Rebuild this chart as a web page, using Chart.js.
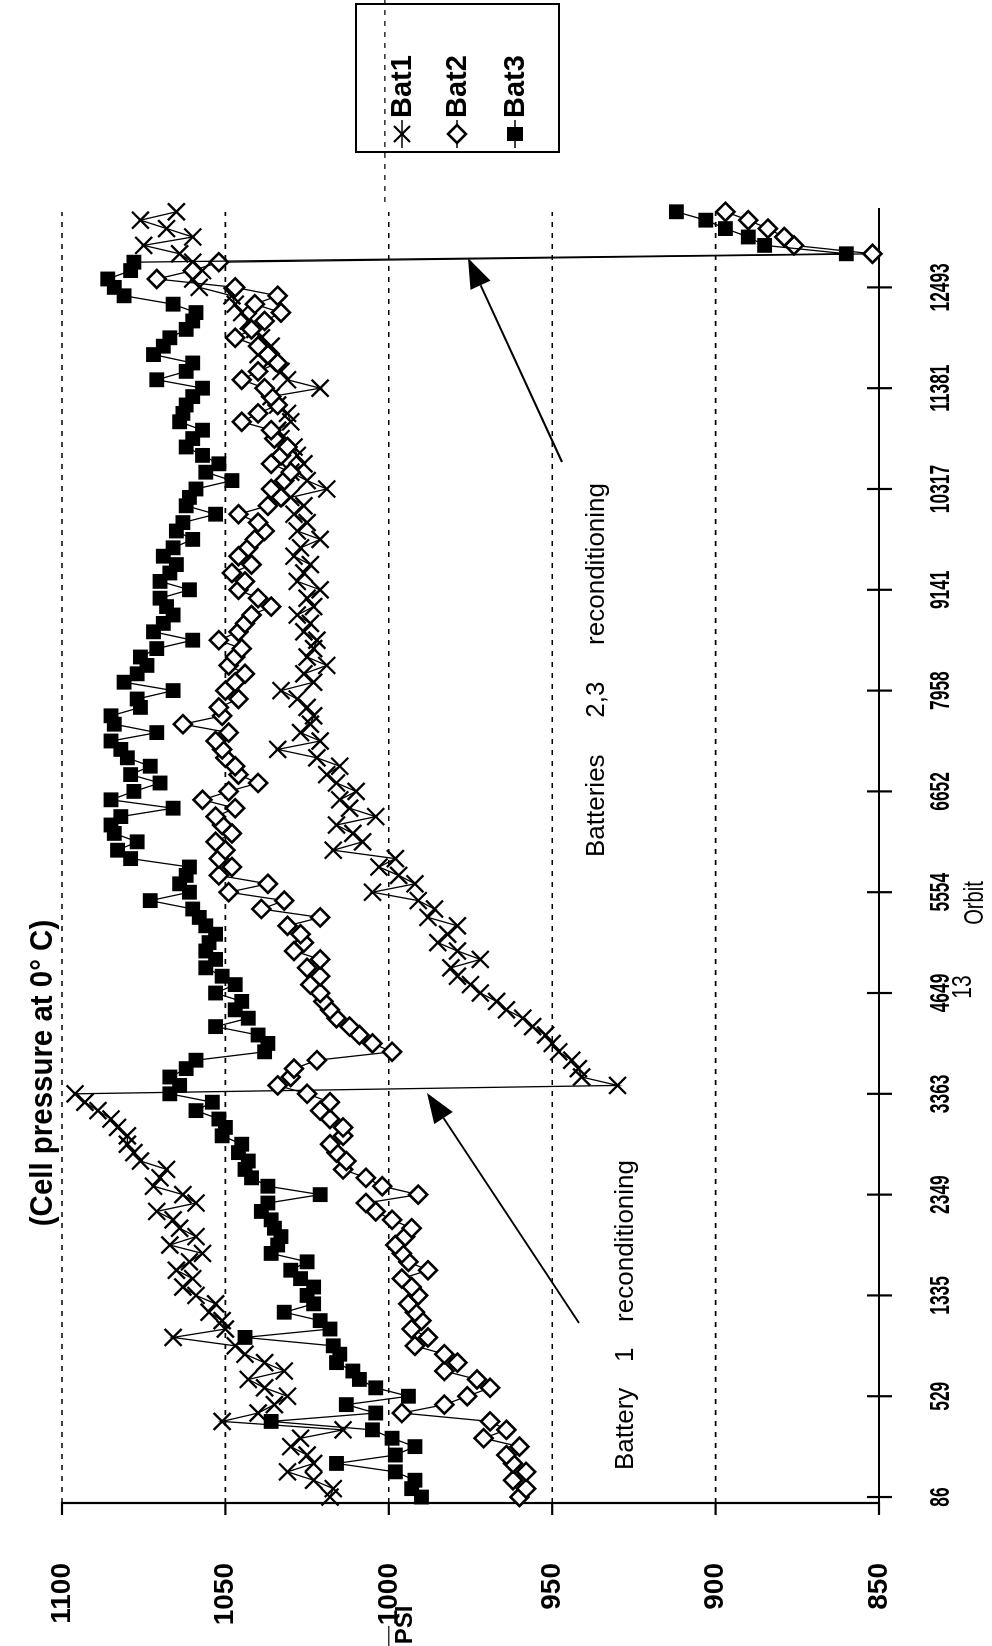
<!DOCTYPE html>
<html>
<head>
<meta charset="utf-8">
<title>Cell pressure at 0° C</title>
<script src="https://cdn.jsdelivr.net/npm/chart.js@4.4.0/dist/chart.umd.min.js"></script>
<style>
  html, body { margin: 0; padding: 0; background: #fff; overflow: hidden; }
  #page { position: absolute; left: 0; top: 0; width: 992px; height: 1646px; overflow: hidden; background: #fff; }
  /* the sheet is laid out landscape and turned a quarter turn counter-clockwise */
  #sheet { position: absolute; left: 0; top: 0; width: 1646px; height: 992px;
           transform-origin: 0 0; transform: translate(0, 1646px) rotate(-90deg); }
  canvas { display: block; }
</style>
</head>
<body>
<div id="page"><div id="sheet"><canvas id="c" width="1646" height="992"></canvas></div></div>
<script>
// ---- data -------------------------------------------------------------
const ORBIT_TICKS = ['86', '529', '1335', '2349', '3363', '4649', '5554', '6652', '7958', '9141', '10317', '11381', '12493'];
const SAMPLES_PER_TICK = 12;          // readings between two labelled orbits
const PSI_TICKS = [850, 900, 950, 1000, 1050, 1100];
const SERIES_NAMES = ['Bat1', 'Bat2', 'Bat3'];

const BAT1 = [
  1018, 1017, 1023, 1031, 1023, 1025, 1030, 1027, 1014, 1051,
  1040, 1035, 1031, 1038, 1043, 1032, 1038, 1044, 1047, 1066,
  1050, 1051, 1055, 1053, 1059, 1063, 1060, 1065, 1061, 1057,
  1067, 1059, 1064, 1066, 1071, 1059, 1063, 1072, 1070, 1068,
  1076, 1078, 1080, 1080, 1083, 1085, 1089, 1093, 1096, 930,
  941, 942, 944, 948, 950, 952, 956, 959, 964, 967,
  972, 975, 979, 981, 972, 979, 985, 982, 979, 988,
  986, 991, 1005, 992, 997, 1003, 998, 1017, 1008, 1011,
  1016, 1004, 1012, 1015, 1010, 1016, 1019, 1015, 1022, 1034,
  1021, 1027, 1024, 1023, 1025, 1028, 1033, 1023, 1026, 1019,
  1025, 1023, 1022, 1026, 1024, 1028, 1023, 1025, 1021, 1028,
  1026, 1024, 1029, 1027, 1021, 1028, 1025, 1029, 1026, 1030,
  1019, 1025, 1030, 1026, 1028, 1029, 1033, 1034, 1030, 1031,
  1034, 1036, 1021, 1031, 1033, 1037, 1040, 1036, 1039, 1041,
  1043, 1045, 1047, 1048, 1058, 1060, 1057, 1060, 1064, 1075,
  1060, 1068, 1076, 1065
];

const BAT2 = [
  960, 958, 962, 958, 962, 964, 960, 971, 964, 969,
  996, 983, 976, 969, 973, 983, 979, 983, 992, 988,
  993, 990, 992, 994, 991, 993, 996, 988, 994, 996,
  998, 995, 993, 999, 1004, 1007, 991, 1002, 1007, 1014,
  1013, 1016, 1018, 1014, 1014, 1018, 1021, 1018, 1025, 1034,
  1030, 1029, 1022, 999, 1005, 1009, 1012, 1016, 1018, 1020,
  1021, 1024, 1021, 1025, 1021, 1029, 1026, 1027, 1031, 1021,
  1039, 1032, 1049, 1037, 1052, 1048, 1052, 1050, 1053, 1048,
  1051, 1053, 1047, 1057, 1049, 1040, 1046, 1047, 1050, 1051,
  1053, 1049, 1063, 1051, 1052, 1046, 1050, 1047, 1044, 1049,
  1047, 1045, 1052, 1046, 1044, 1042, 1036, 1040, 1046, 1044,
  1048, 1042, 1046, 1043, 1041, 1038, 1040, 1046, 1037, 1033,
  1036, 1032, 1030, 1036, 1033, 1031, 1035, 1036, 1045, 1040,
  1034, 1036, 1038, 1045, 1040, 1034, 1037, 1040, 1047, 1042,
  1038, 1033, 1041, 1034, 1047, 1071, 1060, 1052, 852, 876,
  879, 884, 890, 897
];

const BAT3 = [
  990, 993, 992, 998, 1016, 998, 992, 999, 1005, 1036,
  1004, 1013, 994, 1004, 1009, 1011, 1016, 1015, 1017, 1044,
  1018, 1021, 1032, 1023, 1025, 1023, 1027, 1030, 1025, 1036,
  1034, 1033, 1035, 1036, 1039, 1037, 1021, 1037, 1042, 1044,
  1043, 1046, 1045, 1051, 1050, 1052, 1059, 1054, 1067, 1064,
  1067, 1062, 1059, 1038, 1037, 1040, 1053, 1043, 1047, 1045,
  1053, 1047, 1051, 1056, 1053, 1056, 1055, 1053, 1056, 1058,
  1060, 1073, 1061, 1064, 1062, 1061, 1079, 1083, 1077, 1084,
  1085, 1082, 1066, 1085, 1078, 1070, 1079, 1073, 1080, 1082,
  1085, 1071, 1084, 1085, 1076, 1077, 1066, 1081, 1077, 1074,
  1076, 1071, 1060, 1072, 1069, 1066, 1068, 1070, 1061, 1070,
  1067, 1065, 1069, 1066, 1060, 1065, 1063, 1053, 1062, 1061,
  1059, 1048, 1056, 1052, 1057, 1062, 1060, 1057, 1064, 1063,
  1062, 1060, 1057, 1071, 1062, 1060, 1072, 1069, 1067, 1062,
  1060, 1059, 1066, 1081, 1084, 1086, 1079, 1078, 860, 885,
  890, 897, 903, 912
];

// ---- drawing ------------------------------------------------------------
const FONT = '"Liberation Sans", Arial, Helvetica, sans-serif';
const INK = '#000';

const asPoints = arr => arr.map((v, i) => ({ x: i, y: v }));

// text squeezed along its own baseline (narrow type face)
function narrowText(ctx, text, cx, cy, squeeze, align) {
  ctx.save();
  ctx.translate(cx, cy);
  ctx.scale(squeeze, 1);
  ctx.textAlign = align || 'center';
  ctx.textBaseline = 'middle';
  ctx.fillText(text, 0, 0);
  ctx.restore();
}

// axes, dashed grid, crossing tick marks and tick labels
const axesArt = {
  id: 'axesArt',
  beforeDatasetsDraw(chart) {
    const { ctx, chartArea: a, scales: { x, y } } = chart;
    ctx.save();
    ctx.strokeStyle = INK;
    // dashed grid lines at every pressure tick above the floor of the axis
    ctx.lineWidth = 1.6;
    ctx.setLineDash([5, 6]);
    PSI_TICKS.forEach(v => {
      if (v === y.min) return;
      const py = y.getPixelForValue(v);
      ctx.beginPath(); ctx.moveTo(a.left, py); ctx.lineTo(a.right - 4, py); ctx.stroke();
    });
    // the 1000 psi line also runs past the plot on both sides of the sheet
    const p1000 = y.getPixelForValue(1000) - 4;
    ctx.lineWidth = 1.2;
    ctx.beginPath(); ctx.moveTo(a.right + 6, p1000); ctx.lineTo(chart.width, p1000); ctx.stroke();
    ctx.setLineDash([]);
    ctx.beginPath(); ctx.moveTo(0, p1000 + 4); ctx.lineTo(20, p1000 + 4); ctx.stroke();

    // axis lines
    ctx.lineWidth = 2.2;
    ctx.beginPath();
    ctx.moveTo(a.left, a.top);
    ctx.lineTo(a.left, a.bottom);
    ctx.lineTo(a.right, a.bottom);
    ctx.stroke();
    // pressure ticks (outward)
    PSI_TICKS.forEach(v => {
      const py = y.getPixelForValue(v);
      ctx.beginPath(); ctx.moveTo(a.left - 12, py); ctx.lineTo(a.left + 1, py); ctx.stroke();
    });
    // orbit ticks (crossing the axis)
    ORBIT_TICKS.forEach((t, k) => {
      const px = x.getPixelForValue(k * SAMPLES_PER_TICK);
      ctx.beginPath(); ctx.moveTo(px, a.bottom - 12); ctx.lineTo(px, a.bottom + 13); ctx.stroke();
    });

    ctx.fillStyle = INK;
    // pressure labels
    ctx.font = 'bold 28px ' + FONT;
    PSI_TICKS.forEach(v => {
      narrowText(ctx, String(v), a.left - 60, y.getPixelForValue(v), 1, 'right');
    });
    // orbit labels in a narrow bold face
    ctx.font = 'bold 28px ' + FONT;
    ORBIT_TICKS.forEach((t, k) => {
      narrowText(ctx, t, x.getPixelForValue(k * SAMPLES_PER_TICK), a.bottom + 62, 0.62);
    });
    ctx.restore();
  }
};

function marker(ctx, style, cx, cy) {
  ctx.save();
  ctx.strokeStyle = INK;
  ctx.fillStyle = INK;
  if (style === 'crossRot') {
    const r = 8;
    ctx.lineWidth = 2.2;
    ctx.beginPath();
    ctx.moveTo(cx - r, cy - r); ctx.lineTo(cx + r, cy + r);
    ctx.moveTo(cx - r, cy + r); ctx.lineTo(cx + r, cy - r);
    ctx.stroke();
  } else if (style === 'rectRot') {
    const r = 9;
    ctx.lineWidth = 2.6;
    ctx.fillStyle = '#fff';
    ctx.beginPath();
    ctx.moveTo(cx, cy - r); ctx.lineTo(cx + r, cy); ctx.lineTo(cx, cy + r); ctx.lineTo(cx - r, cy); ctx.closePath();
    ctx.fill(); ctx.stroke();
  } else {
    ctx.fillRect(cx - 7, cy - 8, 14, 16);
  }
  ctx.restore();
}

// boxed key at the right-hand edge
const keyBox = {
  id: 'keyBox',
  afterDraw(chart) {
    const { ctx } = chart;
    const box = { x: 1494, y: 356, w: 148, h: 203 };
    const rows = [402, 457, 515];
    ctx.save();
    ctx.strokeStyle = INK;
    ctx.lineWidth = 2;
    ctx.strokeRect(box.x, box.y, box.w, box.h);
    ctx.font = 'bold 29px ' + FONT;
    ctx.textAlign = 'left';
    ctx.textBaseline = 'middle';
    ctx.fillStyle = INK;
    chart.data.datasets.forEach((ds, k) => {
      const cy = rows[k];
      ctx.lineWidth = 1.5;
      ctx.beginPath(); ctx.moveTo(1498, cy); ctx.lineTo(1526, cy); ctx.stroke();
      marker(ctx, ds.pointStyle, 1512, cy);
      ctx.fillText(ds.label, 1528, cy + 1);
    });
    ctx.restore();
  }
};

function arrow(ctx, x0, y0, x1, y1) {
  const ang = Math.atan2(y1 - y0, x1 - x0);
  const len = 30, half = 11;
  const bx = x1 - len * Math.cos(ang), by = y1 - len * Math.sin(ang);
  ctx.beginPath(); ctx.moveTo(x0, y0); ctx.lineTo(bx, by); ctx.stroke();
  ctx.beginPath();
  ctx.moveTo(x1, y1);
  ctx.lineTo(bx + half * Math.sin(ang), by - half * Math.cos(ang));
  ctx.lineTo(bx - half * Math.sin(ang), by + half * Math.cos(ang));
  ctx.closePath(); ctx.fill();
}

function spacedWords(ctx, words, x0, x1, cy) {
  const widths = words.map(w => ctx.measureText(w).width);
  const gap = (x1 - x0 - widths.reduce((s, w) => s + w, 0)) / (words.length - 1);
  let x = x0;
  words.forEach((w, i) => { ctx.fillText(w, x, cy); x += widths[i] + gap; });
}

// titles and notes
const notes = {
  id: 'notes',
  afterDraw(chart) {
    const { ctx } = chart;
    ctx.save();
    ctx.fillStyle = INK;
    ctx.strokeStyle = INK;
    ctx.textBaseline = 'middle';

    ctx.font = 'bold 31px ' + FONT;
    narrowText(ctx, '(Cell pressure at 0\u00B0 C)', 573, 43, 0.95);
    ctx.font = 'bold 24px ' + FONT;
    narrowText(ctx, 'PSI', 21, 405, 1);

    ctx.font = '28px ' + FONT;
    narrowText(ctx, 'Orbit', 743, 975, 0.72);
    ctx.font = '27px ' + FONT;
    narrowText(ctx, '13', 659, 964, 0.78);

    ctx.textAlign = 'left';
    ctx.font = '26px ' + FONT;
    spacedWords(ctx, ['Battery', '1', 'reconditioning'], 176, 486, 626);
    spacedWords(ctx, ['Batteries', '2,3', 'reconditioning'], 789, 1163, 597);

    ctx.lineWidth = 2;
    arrow(ctx, 323, 579, 553, 427);
    arrow(ctx, 1184, 562, 1388, 468);
    ctx.restore();
  }
};

const chart = new Chart(document.getElementById('c'), {
  type: 'line',
  data: {
    datasets: [
      { label: SERIES_NAMES[0], data: asPoints(BAT1), pointStyle: 'crossRot', pointRadius: 12,
        pointBorderWidth: 2.3, pointBorderColor: INK, pointBackgroundColor: INK,
        borderColor: INK, borderWidth: 1.3, order: 3 },
      { label: SERIES_NAMES[1], data: asPoints(BAT2), pointStyle: 'rectRot', pointRadius: 9,
        pointBorderWidth: 2.6, pointBorderColor: INK, pointBackgroundColor: '#fff',
        borderColor: INK, borderWidth: 1.3, order: 2 },
      { label: SERIES_NAMES[2], data: asPoints(BAT3), pointStyle: 'rect', pointRadius: 10.5,
        pointBorderWidth: 0, pointBorderColor: INK, pointBackgroundColor: INK,
        borderColor: INK, borderWidth: 1.3, order: 1 }
    ]
  },
  options: {
    responsive: false,
    animation: false,
    devicePixelRatio: 1,
    events: [],
    clip: false,
    layout: { padding: { top: 62, right: 208, left: 0, bottom: 0 } },
    elements: { line: { tension: 0, fill: false } },
    plugins: { legend: { display: false }, tooltip: { enabled: false }, title: { display: false } },
    scales: {
      x: {
        type: 'linear',
        min: -0.71,
        max: 153.45,
        afterFit: s => { s.height = 113; },
        grid: { display: false, drawTicks: false },
        border: { display: false },
        ticks: { display: false }
      },
      y: {
        type: 'linear',
        min: PSI_TICKS[0],
        max: PSI_TICKS[PSI_TICKS.length - 1],
        afterBuildTicks: s => { s.ticks = PSI_TICKS.map(v => ({ value: v })); },
        afterFit: s => { s.width = 143; },
        grid: { display: false, drawTicks: false },
        border: { display: false },
        ticks: { display: false }
      }
    }
  },
  plugins: [axesArt, keyBox, notes]
});
</script>
</body>
</html>
